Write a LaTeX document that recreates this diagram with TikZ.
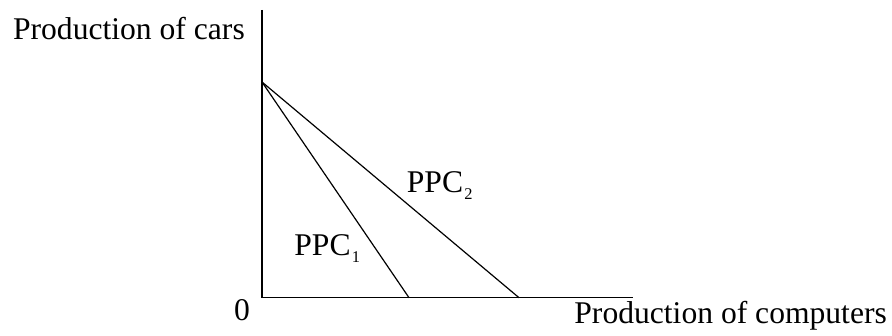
\documentclass[tikz,border=0pt]{standalone}
\usepackage{fontspec}
\setmainfont{Liberation Serif}
\usetikzlibrary{positioning}
\tikzset{ax/.style={line width=0.65pt},
  ppc/.style={line width=0.6pt},
  lbl/.style={inner sep=0pt, anchor=base west, font=\fontsize{15.8}{18}\selectfont}}
\newcommand{\ppcsub}[1]{\kern0.6pt\raisebox{-3.6pt}{\fontsize{8.2}{9}\selectfont #1}}

\begin{document}
\begin{tikzpicture}[x=0.5pt, y=-0.5pt]
  \useasboundingbox (0,0) rectangle (892,336);
  % axes
  \coordinate (o) at (262,297.7);
  \coordinate (ytop) at (262,10);
  \coordinate (xend) at (633,297.7);
  \draw[ax] (ytop) -- (o) -- (xend);
  \node[lbl] (ylab) at (12.7,40) {Production of cars};
  \node[lbl] (xlab) at (574,323) {Production of computers};
  \node[lbl, anchor=base] (zero) at (242,320) {0};
  % curves
  \coordinate (apex) at (262,82);
  \coordinate (c1) at (409,297.7);
  \coordinate (c2) at (519,297.7);
  \draw[ppc] (apex) -- (c1);
  \draw[ppc] (apex) -- (c2);
  \node[lbl] (ppc1) at (294,255) {PPC\ppcsub{1}};
  \node[lbl] (ppc2) at (406.5,192) {PPC\ppcsub{2}};
\end{tikzpicture}
\end{document}
